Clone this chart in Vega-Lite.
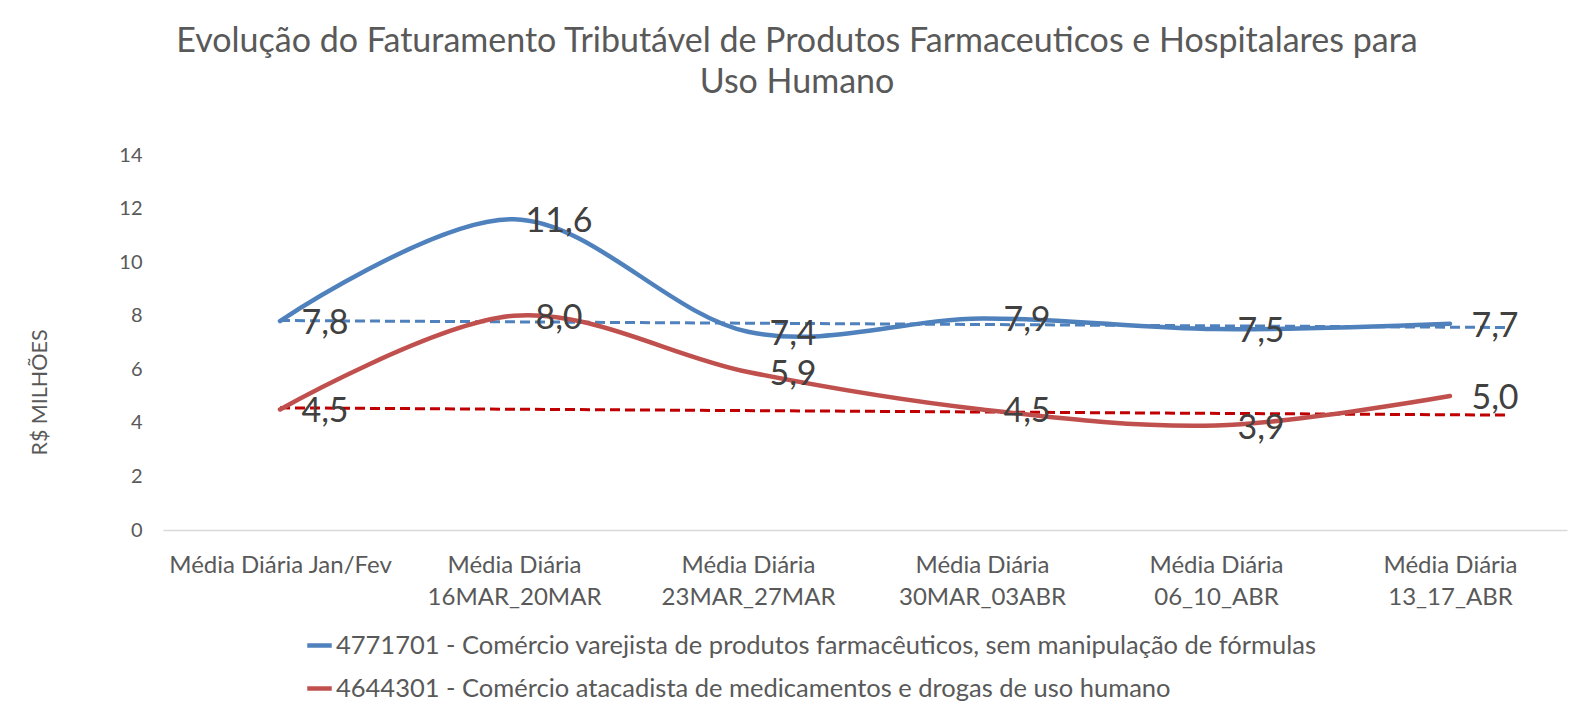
{
  "$schema": "https://vega.github.io/schema/vega-lite/v6.json",
  "width": 1404,
  "height": 375,
  "autosize": {"type": "none"},
  "padding": {"left": 163, "top": 155, "right": 6, "bottom": 180},
  "background": "white",
  "config": {
    "view": {"stroke": null},
    "font": "Lato",
    "locale": {"number": {"decimal": ",", "thousands": ".", "grouping": [3], "currency": ["R$", ""]}}
  },
  "title": {
    "text": ["Evolução do Faturamento Tributável de Produtos Farmaceuticos e Hospitalares para", "Uso Humano"],
    "fontSize": 34,
    "font": "Lato",
    "fontWeight": "normal",
    "color": "#595959",
    "anchor": "middle",
    "dx": -68,
    "offset": 45,
    "lineHeight": 41
  },
  "datasets": {
    "main": [
      {"i": 0, "cat": "Média Diária Jan/Fev", "s": "4771701 - Comércio varejista de produtos farmacêuticos, sem manipulação de fórmulas", "v": 7.8},
      {"i": 1, "cat": "Média Diária 16MAR_20MAR", "s": "4771701 - Comércio varejista de produtos farmacêuticos, sem manipulação de fórmulas", "v": 11.6},
      {"i": 2, "cat": "Média Diária 23MAR_27MAR", "s": "4771701 - Comércio varejista de produtos farmacêuticos, sem manipulação de fórmulas", "v": 7.4},
      {"i": 3, "cat": "Média Diária 30MAR_03ABR", "s": "4771701 - Comércio varejista de produtos farmacêuticos, sem manipulação de fórmulas", "v": 7.9},
      {"i": 4, "cat": "Média Diária 06_10_ABR", "s": "4771701 - Comércio varejista de produtos farmacêuticos, sem manipulação de fórmulas", "v": 7.5},
      {"i": 5, "cat": "Média Diária 13_17_ABR", "s": "4771701 - Comércio varejista de produtos farmacêuticos, sem manipulação de fórmulas", "v": 7.7},
      {"i": 0, "cat": "Média Diária Jan/Fev", "s": "4644301 - Comércio atacadista de medicamentos e drogas de uso humano", "v": 4.5},
      {"i": 1, "cat": "Média Diária 16MAR_20MAR", "s": "4644301 - Comércio atacadista de medicamentos e drogas de uso humano", "v": 8.0},
      {"i": 2, "cat": "Média Diária 23MAR_27MAR", "s": "4644301 - Comércio atacadista de medicamentos e drogas de uso humano", "v": 5.9},
      {"i": 3, "cat": "Média Diária 30MAR_03ABR", "s": "4644301 - Comércio atacadista de medicamentos e drogas de uso humano", "v": 4.5},
      {"i": 4, "cat": "Média Diária 06_10_ABR", "s": "4644301 - Comércio atacadista de medicamentos e drogas de uso humano", "v": 3.9},
      {"i": 5, "cat": "Média Diária 13_17_ABR", "s": "4644301 - Comércio atacadista de medicamentos e drogas de uso humano", "v": 5.0}
    ],
    "trend": [
      {"i": 0, "s": "Tendência varejista", "v": 7.82},
      {"i": 5.25, "s": "Tendência varejista", "v": 7.56},
      {"i": 0, "s": "Tendência atacadista", "v": 4.56},
      {"i": 5.25, "s": "Tendência atacadista", "v": 4.29}
    ]
  },
  "encoding": {
    "x": {
      "field": "i",
      "type": "quantitative",
      "scale": {"domain": [-0.5, 5.5], "nice": false, "zero": false},
      "axis": {
        "title": null,
        "values": [0, 1, 2, 3, 4, 5],
        "ticks": false,
        "grid": false,
        "domainColor": "#D9D9D9",
        "domainWidth": 1.5,
        "labelFont": "Lato",
        "labelFontSize": 24,
        "labelColor": "#595959",
        "labelPadding": 23,
        "labelLineHeight": 32,
        "labelLimit": 400,
        "labelFlush": false,
        "labelOverlap": false,
        "labelBound": false,
        "labelExpr": "['Média Diária Jan/Fev', ['Média Diária', '16MAR_20MAR'], ['Média Diária', '23MAR_27MAR'], ['Média Diária', '30MAR_03ABR'], ['Média Diária', '06_10_ABR'], ['Média Diária', '13_17_ABR']][datum.value]"
      }
    },
    "y": {
      "field": "v",
      "type": "quantitative",
      "scale": {"domain": [0, 14], "nice": false},
      "axis": {
        "title": "R$ MILHÕES",
        "values": [0, 2, 4, 6, 8, 10, 12, 14],
        "ticks": false,
        "domain": false,
        "grid": false,
        "labelFont": "Lato",
        "labelFontSize": 20,
        "labelColor": "#595959",
        "labelPadding": 21,
        "titleFont": "Lato",
        "titleFontSize": 21.5,
        "titleFontWeight": "normal",
        "titleColor": "#595959",
        "titleX": -123,
        "titleY": 237,
        "titleAlign": "center",
        "titleBaseline": "middle"
      }
    }
  },
  "layer": [
    {
      "data": {"name": "trend"},
      "mark": {"type": "line", "strokeWidth": 3, "strokeDash": [10, 5]},
      "encoding": {
        "color": {
          "field": "s",
          "type": "nominal",
          "scale": {"domain": ["Tendência varejista", "Tendência atacadista"], "range": ["#4F81BD", "#C00000"]},
          "legend": null
        },
        "detail": {"field": "s"}
      }
    },
    {
      "data": {"name": "main"},
      "mark": {"type": "line", "strokeWidth": 4.5, "interpolate": "cardinal", "strokeCap": "round"},
      "encoding": {
        "color": {
          "field": "s",
          "type": "nominal",
          "scale": {
            "domain": ["4771701 - Comércio varejista de produtos farmacêuticos, sem manipulação de fórmulas", "4644301 - Comércio atacadista de medicamentos e drogas de uso humano"],
            "range": ["#4F81BD", "#C0504D"]
          },
          "legend": {
            "title": null,
            "orient": "none",
            "legendX": 142,
            "legendY": 476,
            "direction": "vertical",
            "symbolType": "stroke",
            "symbolStrokeWidth": 4.5,
            "symbolSize": 600,
            "labelFont": "Lato",
            "labelFontSize": 25.5,
            "labelColor": "#595959",
            "labelLimit": 1300,
            "labelOffset": 2,
            "rowPadding": 15
          }
        }
      }
    },
    {
      "data": {"name": "main"},
      "mark": {"type": "text", "font": "Lato", "fontSize": 34, "color": "#404040", "dx": 45, "dy": 3, "align": "center", "baseline": "middle"},
      "encoding": {
        "text": {"field": "v", "type": "quantitative", "format": ".1f"}
      }
    }
  ],
  "resolve": {"scale": {"color": "independent"}}
}
